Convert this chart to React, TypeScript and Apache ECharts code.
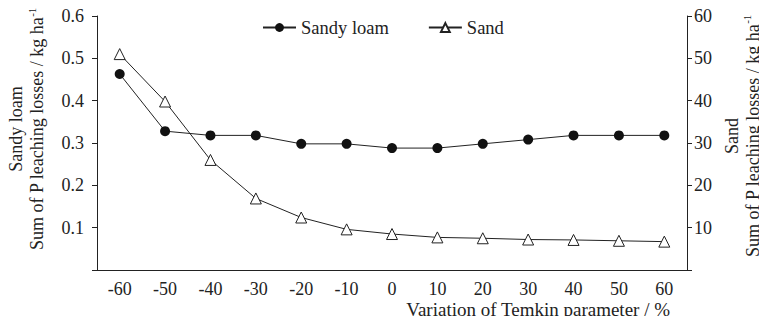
import React, { useEffect, useRef } from "react";
import * as echarts from "echarts";

const categories = ["-60", "-50", "-40", "-30", "-20", "-10", "0", "10", "20", "30", "40", "50", "60"];
const sandyLoam = [0.463, 0.328, 0.318, 0.318, 0.298, 0.298, 0.288, 0.288, 0.298, 0.308, 0.318, 0.318, 0.318];
const sand = [51.0, 39.8, 26.0, 16.9, 12.4, 9.6, 8.5, 7.7, 7.5, 7.2, 7.1, 6.9, 6.7];
const seriesNames = ["Sandy loam", "Sand"];

const FONT = "serif";

export default function App() {
  const ref = useRef<HTMLDivElement>(null);
  useEffect(() => {
    if (!ref.current) return;
    const chart = echarts.init(ref.current, null, { renderer: "svg" });
    const axisNameRich = {
      sup: { fontSize: 11, fontFamily: FONT, color: "#222", verticalAlign: "top", lineHeight: 22 },
    };
    chart.setOption({
      animation: false,
      textStyle: { fontFamily: FONT, color: "#222" },
      grid: { left: 97, right: 80, top: 16, bottom: 54, containLabel: false, outerBoundsMode: "none" },
      legend: {
        left: 262,
        top: 18,
        padding: 0,
        itemGap: 39,
        itemWidth: 33,
        itemHeight: 11,
        textStyle: { fontFamily: FONT, fontSize: 18.5, color: "#222" },
        data: seriesNames,
      },
      xAxis: {
        type: "category",
        data: categories,
        boundaryGap: true,
        axisLine: { lineStyle: { color: "#222", width: 1 } },
        axisTick: { alignWithLabel: true, length: 5, lineStyle: { color: "#222" } },
        axisLabel: { fontFamily: FONT, fontSize: 18, color: "#222", margin: 10 },
        splitLine: { show: false },
        name: "Variation of Temkin parameter / %",
        nameLocation: "end",
        nameGap: -17,
        nameTextStyle: {
          fontFamily: FONT,
          fontSize: 19,
          color: "#222",
          align: "right",
          verticalAlign: "top",
          padding: [30, 0, 0, 0],
        },
      },
      yAxis: [
        {
          type: "value",
          min: 0,
          max: 0.6,
          interval: 0.1,
          axisLine: { show: true, lineStyle: { color: "#222", width: 1 } },
          axisTick: { show: true, length: 5, lineStyle: { color: "#222" } },
          axisLabel: {
            fontFamily: FONT,
            fontSize: 18,
            color: "#222",
            margin: 13,
            formatter: (v: number) => (v === 0 ? "" : v.toFixed(1)),
          },
          splitLine: { show: false },
          name: "Sandy loam\nSum of P leaching losses / kg ha{sup|-1}",
          nameLocation: "middle",
          nameGap: 49,
          nameTextStyle: {
            fontFamily: FONT,
            fontSize: 18,
            color: "#222",
            lineHeight: 21,
            padding: [0, 0, 0, 28],
            rich: axisNameRich,
          },
        },
        {
          type: "value",
          min: 0,
          max: 60,
          interval: 10,
          position: "right",
          axisLine: { show: true, lineStyle: { color: "#222", width: 1 } },
          axisTick: { show: true, length: 5, lineStyle: { color: "#222" } },
          axisLabel: {
            fontFamily: FONT,
            fontSize: 18,
            color: "#222",
            margin: 7,
            formatter: (v: number) => (v === 0 ? "" : String(v)),
          },
          splitLine: { show: false },
          name: "Sand\nSum of P leaching losses / kg ha{sup|-1}",
          nameLocation: "middle",
          nameGap: 33,
          nameRotate: 90,
          nameTextStyle: {
            fontFamily: FONT,
            fontSize: 18,
            color: "#222",
            lineHeight: 19,
            padding: [0, 0, 0, 14],
            rich: axisNameRich,
          },
        },
      ],
      series: [
        {
          name: seriesNames[0],
          type: "line",
          yAxisIndex: 0,
          data: sandyLoam,
          symbol: "circle",
          symbolSize: 10,
          itemStyle: { color: "#111", borderColor: "#111", borderWidth: 0 },
          lineStyle: { color: "#222", width: 1 },
        },
        {
          name: seriesNames[1],
          type: "line",
          yAxisIndex: 1,
          data: sand,
          symbol: "triangle",
          symbolSize: 11,
          itemStyle: { color: "#fff", borderColor: "#222", borderWidth: 1 },
          lineStyle: { color: "#222", width: 1 },
        },
      ],
    });
    return () => chart.dispose();
  }, []);
  return <div ref={ref} style={{ width: 767, height: 324, margin: -8 }} />;
}
